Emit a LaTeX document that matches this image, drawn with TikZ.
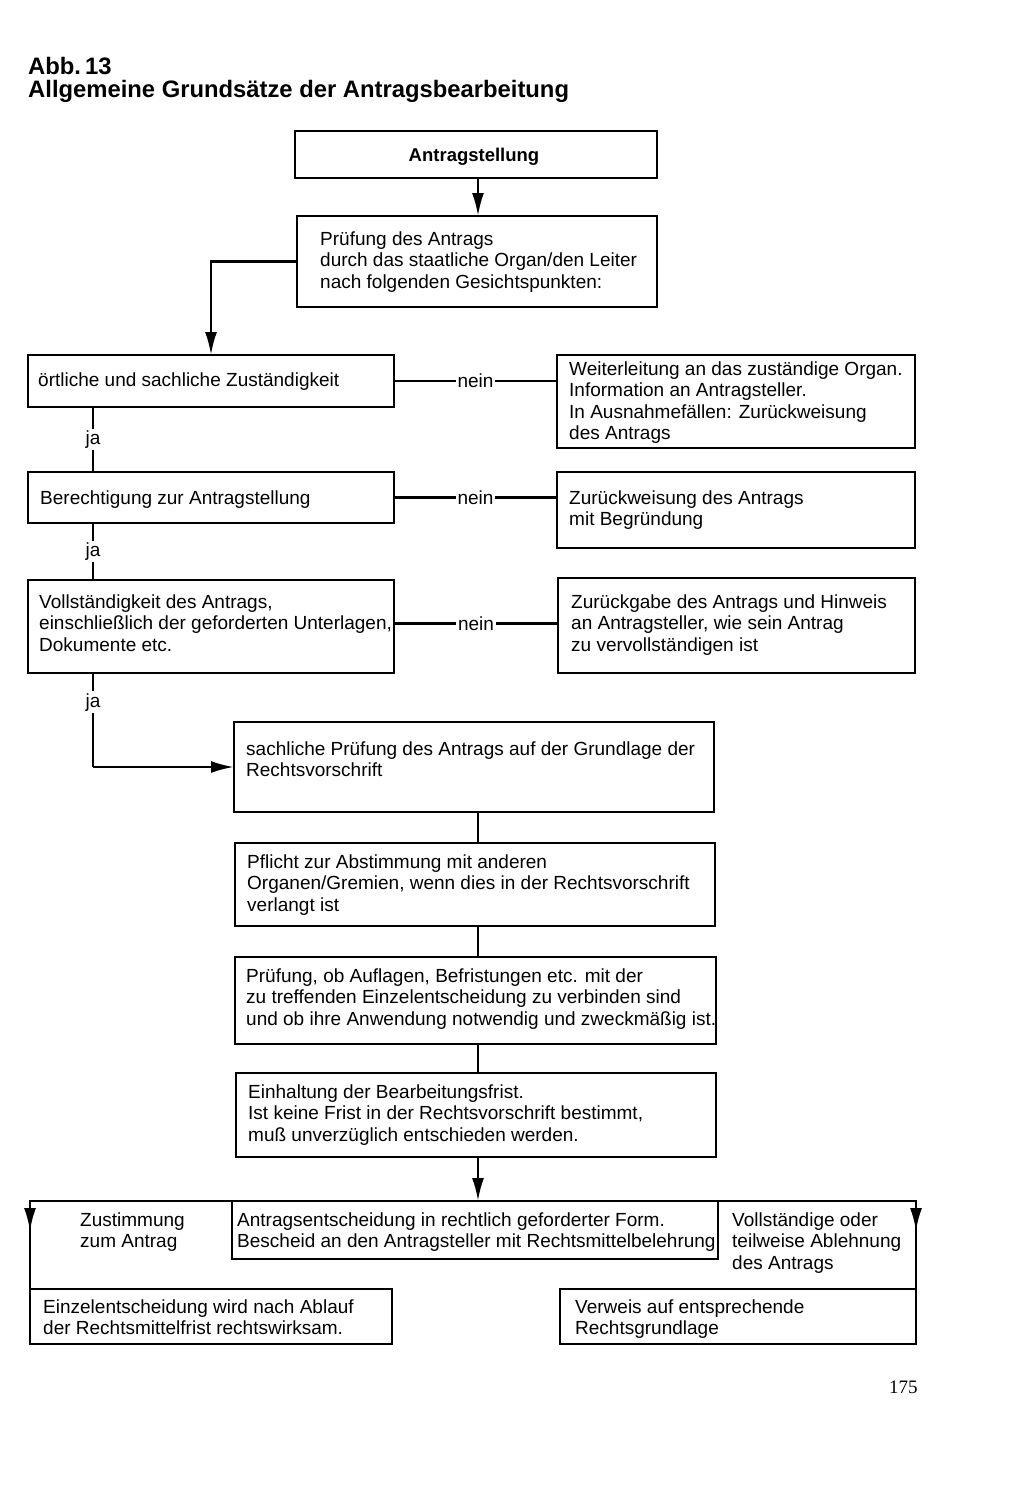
\documentclass[tikz,border=0pt]{standalone}
\usepackage{fontspec}
\setmainfont{Liberation Sans}
\newfontfamily\pgserif{Liberation Serif}
\usetikzlibrary{arrows.meta,calc}
\newcommand\ml[1]{\parbox[t]{520pt}{\raggedright #1}}
\begin{document}
\begin{tikzpicture}[x=1pt,y=-1pt,
  box/.style={draw, line width=2.5pt, inner sep=0pt, outer sep=0pt, anchor=north west},
  txt/.style={inner sep=0pt, anchor=base west, font=\fontsize{19}{21.5}\selectfont},
  lab/.style={fill=white, inner sep=2pt, font=\fontsize{19}{21.5}\selectfont},
  conn/.style={line width=2.5pt},
  arr/.style={line width=2.5pt, -{Latex[length=23pt,width=12pt]}}]
\useasboundingbox[fill=white] (0,0) rectangle (1024,1509);
% title
\node[inner sep=0pt, anchor=base west, font=\bfseries\fontsize{23.8}{24}\selectfont] (ta) at (28,75) {Abb.\,13};
\node[inner sep=0pt, anchor=base west, font=\bfseries\fontsize{23.8}{24}\selectfont] (tb) at (28,98) {Allgemeine Grundsätze der Antragsbearbeitung};
% boxes
\node[box, minimum width=362pt, minimum height=47pt] (b1) at (295,131) {};
\node[box, minimum width=360pt, minimum height=91pt] (b2) at (297,216) {};
\node[box, minimum width=366pt, minimum height=52pt] (b3) at (28,355) {};
\node[box, minimum width=358pt, minimum height=93pt] (b4) at (557,355) {};
\node[box, minimum width=366pt, minimum height=51pt] (b5) at (28,472) {};
\node[box, minimum width=358pt, minimum height=76pt] (b6) at (557,472) {};
\node[box, minimum width=366pt, minimum height=93pt] (b7) at (28,580) {};
\node[box, minimum width=357pt, minimum height=95pt] (b8) at (558,578) {};
\node[box, minimum width=480pt, minimum height=90pt] (b9) at (234,722) {};
\node[box, minimum width=480pt, minimum height=83pt] (b10) at (235,843) {};
\node[box, minimum width=481pt, minimum height=87pt] (b11) at (235,957) {};
\node[box, minimum width=480pt, minimum height=84pt] (b12) at (236,1073) {};
\node[box, minimum width=486pt, minimum height=58pt] (b13) at (232,1201) {};
\node[box, minimum width=362pt, minimum height=55pt] (b14) at (30,1289) {};
\node[box, minimum width=356pt, minimum height=55pt] (b15) at (560,1289) {};
% texts
\node[inner sep=0pt, anchor=base, font=\bfseries\fontsize{18.5}{21.5}\selectfont] (t1) at (474,161) {Antragstellung};
\node[txt] (t2) at (320,245) {\ml{Prüfung des Antrags\\durch das staatliche Organ/den Leiter\\nach folgenden Gesichtspunkten:}};
\node[txt] (t3) at (38,386) {örtliche und sachliche Zuständigkeit};
\node[txt] (t4) at (569,375) {\ml{Weiterleitung an das zuständige Organ.\\Information an Antragsteller.\\In Ausnahmefällen: Zurückweisung\\des Antrags}};
\node[txt] (t5) at (40,504) {Berechtigung zur Antragstellung};
\node[txt] (t6) at (569,504) {\ml{Zurückweisung des Antrags\\mit Begründung}};
\node[txt] (t7) at (39,608) {\ml{Vollständigkeit des Antrags,\\einschließlich der geforderten Unterlagen,\\Dokumente etc.}};
\node[txt] (t8) at (571,608) {\ml{Zurückgabe des Antrags und Hinweis\\an Antragsteller, wie sein Antrag\\zu vervollständigen ist}};
\node[txt] (t9) at (246,755) {\ml{sachliche Prüfung des Antrags auf der Grundlage der\\Rechtsvorschrift}};
\node[txt] (t10) at (247,868) {\ml{Pflicht zur Abstimmung mit anderen\\Organen/Gremien, wenn dies in der Rechtsvorschrift\\verlangt ist}};
\node[txt] (t11) at (246,982) {\ml{Prüfung, ob Auflagen, Befristungen etc. mit der\\zu treffenden Einzelentscheidung zu verbinden sind\\und ob ihre Anwendung notwendig und zweckmäßig ist.}};
\node[txt] (t12) at (248,1098) {\ml{Einhaltung der Bearbeitungsfrist.\\Ist keine Frist in der Rechtsvorschrift bestimmt,\\muß unverzüglich entschieden werden.}};
\node[txt] (t13) at (237,1226) {\ml{Antragsentscheidung in rechtlich geforderter Form.\\Bescheid an den Antragsteller mit Rechtsmittelbelehrung}};
\node[txt] (t13l) at (80,1226) {\ml{Zustimmung\\zum Antrag}};
\node[txt] (t13r) at (732,1226) {\ml{Vollständige oder\\teilweise Ablehnung\\des Antrags}};
\node[txt] (t14) at (43,1313) {\ml{Einzelentscheidung wird nach Ablauf\\der Rechtsmittelfrist rechtswirksam.}};
\node[txt] (t15) at (575,1313) {\ml{Verweis auf entsprechende\\Rechtsgrundlage}};
\node[inner sep=0pt, anchor=base west, font=\pgserif\fontsize{19}{22}\selectfont] (pg) at (889,1393) {175};
% connectors
\coordinate (jx) at (93,0);
\coordinate (mx) at (478,0);
\draw[arr] (b1.south -| mx) -- (b2.north -| mx);
\draw[arr] (b2.west) -| (b3.north);
\draw[conn] (b3.east) -- node[lab] {nein} (b3.east -| b4.west);
\draw[conn] (b5.east) -- node[lab] {nein} (b5.east -| b6.west);
\coordinate (n3) at ($(b7.east)+(0,-3)$);
\draw[conn] (n3) -- node[lab] {nein} (n3 -| b8.west);
\draw[conn] (b3.south -| jx) -- node[lab] {ja} (b5.north -| jx);
\draw[conn] (b5.south -| jx) -- node[lab] {ja} (b7.north -| jx);
\coordinate (jc) at (b9.west -| jx);
\draw[conn] (b7.south -| jx) -- node[lab, pos=0.31] {ja} (jc);
\draw[arr] (jc) -- (b9.west);
\draw[conn] (b9.south -| mx) -- (b10.north -| mx);
\draw[conn] (b10.south -| mx) -- (b11.north -| mx);
\draw[conn] (b11.south -| mx) -- (b12.north -| mx);
\draw[arr] (b12.south -| mx) -- (b13.north -| mx);
\coordinate (fl) at (b13.north -| b14.west);
\coordinate (fr) at (b13.north -| b15.east);
\draw[conn] (b13.north west) -- (fl) -- (b14.north west);
\draw[conn] (b13.north east) -- (fr) -- (b15.north east);
\draw[arr] (fl) -- ++(0,30);
\draw[arr] (fr) -- ++(0,30);
\end{tikzpicture}
\end{document}
